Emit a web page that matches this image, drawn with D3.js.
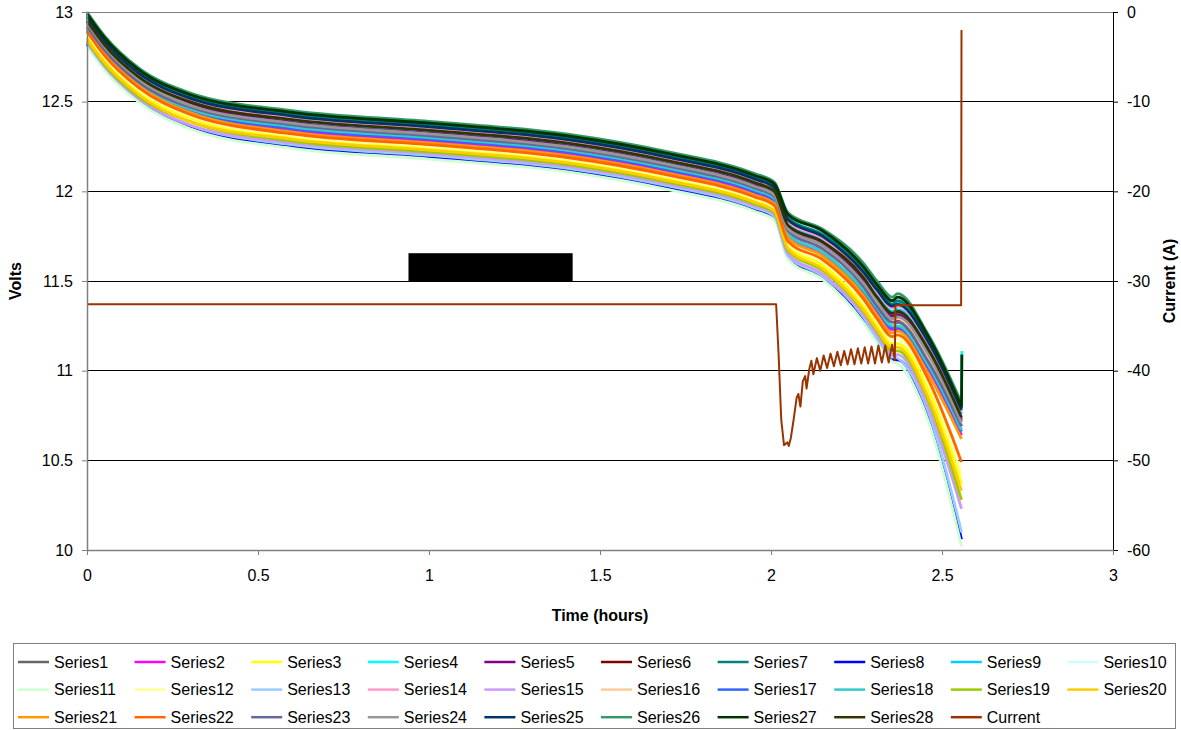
<!DOCTYPE html>
<html><head><meta charset="utf-8">
<script src="https://cdn.jsdelivr.net/npm/d3@7"></script>
<style>
body{margin:0;background:#fff}
text{font-family:"Liberation Sans",Arial,sans-serif}
</style>
</head><body>
<svg id="chart" width="1181" height="730"></svg>
<script>
// ---------- data ----------
const timeHours = [0, 0.05, 0.15, 0.3, 0.6, 1.0, 1.4, 1.7, 1.95, 2.01, 2.05, 2.15, 2.27, 2.31, 2.355, 2.37, 2.46, 2.557];

const series1  = [12.95, 12.82, 12.64, 12.49, 12.39, 12.33, 12.26, 12.16, 12.04, 11.99, 11.81, 11.71, 11.51, 11.40, 11.31, 11.32, 11.11, 10.73];
const series2  = [12.90, 12.77, 12.59, 12.45, 12.34, 12.28, 12.21, 12.11, 11.99, 11.94, 11.75, 11.65, 11.43, 11.33, 11.23, 11.23, 11.01, 10.64];
const series3  = [12.86, 12.73, 12.55, 12.41, 12.30, 12.24, 12.17, 12.07, 11.95, 11.90, 11.69, 11.59, 11.36, 11.25, 11.15, 11.15, 10.89, 10.37];
const series4  = [12.98, 12.85, 12.67, 12.53, 12.42, 12.36, 12.29, 12.19, 12.07, 12.02, 11.85, 11.76, 11.56, 11.46, 11.37, 11.38, 11.17, 10.79];
const series5  = [12.94, 12.81, 12.63, 12.49, 12.39, 12.33, 12.26, 12.16, 12.04, 11.99, 11.80, 11.71, 11.50, 11.40, 11.30, 11.31, 11.10, 10.72];
const series6  = [12.93, 12.80, 12.62, 12.47, 12.37, 12.31, 12.24, 12.14, 12.02, 11.97, 11.78, 11.68, 11.47, 11.37, 11.27, 11.28, 11.06, 10.69];
const series7  = [12.98, 12.85, 12.67, 12.53, 12.43, 12.37, 12.30, 12.20, 12.08, 12.03, 11.85, 11.76, 11.57, 11.47, 11.37, 11.39, 11.18, 10.79];
const series8  = [12.82, 12.69, 12.51, 12.36, 12.25, 12.19, 12.12, 12.02, 11.90, 11.85, 11.63, 11.52, 11.28, 11.17, 11.06, 11.06, 10.74, 10.06];
const series9  = [12.96, 12.83, 12.65, 12.51, 12.40, 12.34, 12.27, 12.17, 12.05, 12.00, 11.82, 11.73, 11.53, 11.42, 11.33, 11.34, 11.13, 10.76];
const series10 = [12.92, 12.79, 12.61, 12.47, 12.36, 12.30, 12.23, 12.13, 12.01, 11.96, 11.77, 11.67, 11.46, 11.36, 11.26, 11.27, 11.04, 10.68];
const series11 = [12.81, 12.68, 12.50, 12.35, 12.24, 12.18, 12.11, 12.01, 11.89, 11.84, 11.62, 11.51, 11.27, 11.16, 11.05, 11.04, 10.72, 10.02];
const series12 = [12.88, 12.75, 12.57, 12.42, 12.31, 12.25, 12.18, 12.08, 11.96, 11.91, 11.71, 11.61, 11.39, 11.28, 11.18, 11.18, 10.93, 10.42];
const series13 = [12.83, 12.70, 12.52, 12.37, 12.26, 12.20, 12.13, 12.03, 11.91, 11.86, 11.64, 11.53, 11.30, 11.18, 11.08, 11.07, 10.77, 10.10];
const series14 = [12.97, 12.84, 12.66, 12.51, 12.41, 12.35, 12.28, 12.18, 12.06, 12.01, 11.83, 11.74, 11.54, 11.44, 11.35, 11.36, 11.15, 10.77];
const series15 = [12.83, 12.70, 12.52, 12.37, 12.27, 12.21, 12.14, 12.04, 11.92, 11.87, 11.65, 11.54, 11.31, 11.20, 11.09, 11.09, 10.79, 10.23];
const series16 = [12.93, 12.80, 12.62, 12.48, 12.37, 12.31, 12.24, 12.14, 12.02, 11.97, 11.79, 11.69, 11.48, 11.38, 11.28, 11.29, 11.07, 10.70];
const series17 = [12.91, 12.78, 12.60, 12.45, 12.35, 12.29, 12.22, 12.12, 12.00, 11.95, 11.76, 11.66, 11.44, 11.34, 11.24, 11.24, 11.02, 10.66];
const series18 = [12.91, 12.78, 12.60, 12.46, 12.36, 12.30, 12.23, 12.13, 12.01, 11.96, 11.76, 11.66, 11.45, 11.35, 11.25, 11.25, 11.03, 10.67];
const series19 = [12.84, 12.71, 12.53, 12.39, 12.28, 12.22, 12.15, 12.05, 11.93, 11.88, 11.67, 11.56, 11.33, 11.22, 11.11, 11.11, 10.83, 10.28];
const series20 = [12.85, 12.72, 12.54, 12.39, 12.29, 12.23, 12.16, 12.06, 11.94, 11.89, 11.68, 11.57, 11.34, 11.23, 11.13, 11.13, 10.85, 10.33];
const series21 = [12.90, 12.77, 12.59, 12.44, 12.33, 12.27, 12.20, 12.10, 11.98, 11.93, 11.74, 11.64, 11.42, 11.31, 11.21, 11.22, 10.98, 10.62];
const series22 = [12.89, 12.76, 12.58, 12.43, 12.32, 12.26, 12.19, 12.09, 11.97, 11.92, 11.72, 11.62, 11.40, 11.29, 11.19, 11.20, 10.95, 10.49];
const series23 = [12.92, 12.79, 12.61, 12.47, 12.37, 12.31, 12.24, 12.14, 12.02, 11.97, 11.78, 11.68, 11.47, 11.36, 11.27, 11.27, 11.05, 10.69];
const series24 = [12.94, 12.81, 12.63, 12.48, 12.38, 12.32, 12.25, 12.15, 12.03, 11.98, 11.79, 11.70, 11.49, 11.39, 11.29, 11.30, 11.09, 10.71];
const series25 = [12.97, 12.84, 12.66, 12.52, 12.42, 12.36, 12.29, 12.19, 12.07, 12.02, 11.84, 11.75, 11.55, 11.45, 11.36, 11.37, 11.16, 10.78];
const series26 = [13.00, 12.87, 12.69, 12.55, 12.45, 12.39, 12.32, 12.22, 12.10, 12.05, 11.88, 11.79, 11.60, 11.50, 11.41, 11.43, 11.20, 10.82];
const series27 = [12.99, 12.86, 12.68, 12.54, 12.44, 12.38, 12.31, 12.21, 12.09, 12.04, 11.87, 11.78, 11.58, 11.48, 11.39, 11.41, 11.19, 10.80];
const series28 = [12.95, 12.82, 12.64, 12.50, 12.40, 12.34, 12.27, 12.17, 12.05, 12.00, 11.81, 11.72, 11.52, 11.41, 11.32, 11.33, 11.12, 10.74];

const seriesNames = ["Series1","Series2","Series3","Series4","Series5","Series6","Series7","Series8","Series9","Series10",
  "Series11","Series12","Series13","Series14","Series15","Series16","Series17","Series18","Series19","Series20",
  "Series21","Series22","Series23","Series24","Series25","Series26","Series27","Series28"];
const seriesVolts = [series1,series2,series3,series4,series5,series6,series7,series8,series9,series10,
  series11,series12,series13,series14,series15,series16,series17,series18,series19,series20,
  series21,series22,series23,series24,series25,series26,series27,series28];
const seriesColors = ["#666666","#FF00FF","#FFFF00","#00FFFF","#800080","#800000","#008080","#0000FF","#00CCFF","#CCFFFF",
  "#CCFFCC","#FFFF99","#99CCFF","#FF99CC","#CC99FF","#FFCC99","#3366FF","#33CCCC","#99CC00","#FFCC00",
  "#FF9900","#FF6600","#666699","#969696","#003366","#339966","#003300","#333300"];

// voltage recovery at the very end (current switched off)
const recoveryTime = 2.558;
const recoveryNames = ["Series4", "Series27"];
const recoveryVolts = [11.11, 11.09];

const currentTime = [0, 2.015, 2.022, 2.030, 2.038, 2.048, 2.052, 2.058, 2.066, 2.075, 2.080, 2.086, 2.093, 2.100, 2.104, 2.112,
  2.118, 2.124, 2.134, 2.144, 2.154, 2.164, 2.174, 2.184, 2.194, 2.204, 2.214, 2.224, 2.234, 2.244, 2.254, 2.264,
  2.274, 2.284, 2.294, 2.304, 2.314, 2.324, 2.334, 2.344, 2.354, 2.362, 2.364, 2.556, 2.557];
const currentAmps = [-32.6, -32.6, -38.0, -45.5, -48.3, -48.0, -48.4, -47.5, -45.5, -43.0, -42.6, -44.0, -41.2, -40.6, -42.0, -39.8,
  -38.9, -40.4, -38.6, -40.0, -38.3, -39.7, -38.1, -39.5, -37.9, -39.4, -37.8, -39.3, -37.6, -39.3, -37.5, -39.2,
  -37.4, -39.2, -37.3, -39.2, -37.2, -39.1, -37.2, -39.1, -37.1, -38.8, -32.7, -32.7, -2.0];
const currentColor = "#993300";

// black box covering a label in the original
const maskTime = [0.94, 1.42];
const maskVolts = [11.5, 11.655];

const voltTicks = [10, 10.5, 11, 11.5, 12, 12.5, 13];
const currentTicks = [0, -10, -20, -30, -40, -50, -60];
const timeTicks = [0, 0.5, 1, 1.5, 2, 2.5, 3];

// ---------- drawing ----------
const svg = d3.select("#chart");
const L = 87, R = 1113, T = 12, B = 550;
const x = d3.scaleLinear().domain([0, 3]).range([L, R]);
const yV = d3.scaleLinear().domain([10, 13]).range([B, T]);
const yA = d3.scaleLinear().domain([-60, 0]).range([B, T]);

// gridlines
svg.append("g").selectAll("line").data(voltTicks.filter(v => v > 10 && v < 13)).join("line")
  .attr("x1", L).attr("x2", R).attr("y1", d => yV(d)).attr("y2", d => yV(d))
  .attr("stroke", "#000").attr("stroke-width", 1).attr("shape-rendering", "crispEdges");
svg.append("line").attr("x1", L).attr("x2", R).attr("y1", yV(13)).attr("y2", yV(13))
  .attr("stroke", "#808080").attr("stroke-width", 1).attr("shape-rendering", "crispEdges");

// mask box
svg.append("rect")
  .attr("x", x(maskTime[0])).attr("y", yV(maskVolts[1]))
  .attr("width", x(maskTime[1]) - x(maskTime[0])).attr("height", yV(maskVolts[0]) - yV(maskVolts[1]))
  .attr("fill", "#000");

// voltage series
const lineV = d3.line().x(d => x(d[0])).y(d => yV(d[1])).curve(d3.curveMonotoneX);
const gS = svg.append("g");
seriesVolts.forEach((vals, i) => {
  const pts = timeHours.map((t, k) => [t, vals[k]]);
  const ri = recoveryNames.indexOf(seriesNames[i]);
  let path = lineV(pts);
  if (ri >= 0) path += "L" + x(recoveryTime) + "," + yV(recoveryVolts[ri]);
  gS.append("path").attr("d", path).attr("fill", "none")
    .attr("stroke", seriesColors[i]).attr("stroke-width", 2.8).attr("stroke-linejoin", "round");
});

// current
const lineA = d3.line().x((d, k) => x(currentTime[k])).y(d => yA(d));
svg.append("path").attr("d", lineA(currentAmps)).attr("fill", "none")
  .attr("stroke", currentColor).attr("stroke-width", 2).attr("stroke-linejoin", "round");

// axes
function styleAxis(g, domainColor, tickColor) {
  g.select(".domain").attr("stroke", domainColor).attr("stroke-width", 1.5);
  g.selectAll(".tick line").attr("stroke", tickColor);
  g.selectAll(".tick text").attr("fill", "#000").style("font-size", "16px")
    .style("font-family", '"Liberation Sans", Arial, sans-serif');
}
const axL = svg.append("g").attr("transform", `translate(${L},0)`)
  .call(d3.axisLeft(yV).tickValues(voltTicks).tickSize(5).tickSizeOuter(0).tickPadding(9).tickFormat(d => String(d)));
styleAxis(axL, "#808080", "#808080");
const axR = svg.append("g").attr("transform", `translate(${R},0)`)
  .call(d3.axisRight(yA).tickValues(currentTicks).tickSize(5).tickSizeOuter(0).tickPadding(9).tickFormat(d => String(d)));
styleAxis(axR, "#000", "#000");
axR.select(".domain").attr("stroke-width", 1);
const axB = svg.append("g").attr("transform", `translate(0,${B})`)
  .call(d3.axisBottom(x).tickValues(timeTicks).tickSize(5).tickSizeOuter(0).tickPadding(15).tickFormat(d => String(d)));
styleAxis(axB, "#808080", "#808080");

// titles
svg.append("text").attr("transform", `translate(21,${(T + B) / 2}) rotate(-90)`)
  .attr("text-anchor", "middle").attr("font-weight", "bold").attr("font-size", 16).text("Volts");
svg.append("text").attr("transform", `translate(1175,${(T + B) / 2}) rotate(-90)`)
  .attr("text-anchor", "middle").attr("font-weight", "bold").attr("font-size", 16).text("Current (A)");
svg.append("text").attr("x", (L + R) / 2).attr("y", 621)
  .attr("text-anchor", "middle").attr("font-weight", "bold").attr("font-size", 16).text("Time (hours)");

// legend
svg.append("rect").attr("x", 13.5).attr("y", 643.5).attr("width", 1162).attr("height", 85)
  .attr("fill", "#fff").attr("stroke", "#808080").attr("stroke-width", 1);
const legendItems = seriesNames.map((n, i) => ({ name: n, color: seriesColors[i] }))
  .concat([{ name: "Current", color: currentColor }]);
const gL = svg.append("g");
legendItems.forEach((it, i) => {
  const col = i % 10, row = Math.floor(i / 10);
  const tx = 54 + col * 116.6, ty = 662 + row * 27.6;
  gL.append("line").attr("x1", tx - 36).attr("x2", tx - 5).attr("y1", ty).attr("y2", ty)
    .attr("stroke", it.color).attr("stroke-width", 2.5);
  gL.append("text").attr("x", tx).attr("y", ty).attr("dy", "0.35em")
    .attr("font-size", 16).attr("fill", "#000").text(it.name);
});
</script>
</body></html>
